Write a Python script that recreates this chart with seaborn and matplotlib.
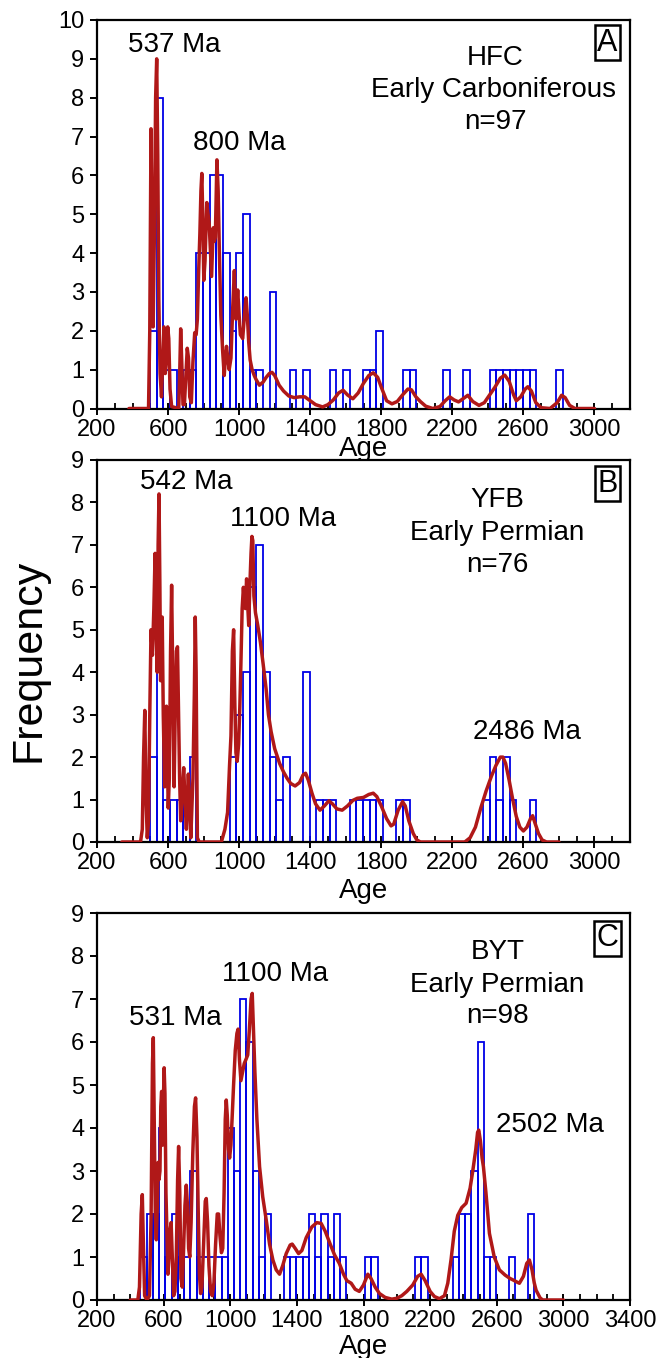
import numpy as np
import pandas as pd
import matplotlib
matplotlib.use("Agg")
import matplotlib.pyplot as plt
import seaborn as sns
from matplotlib.ticker import MultipleLocator

sns.set_theme(style="ticks")
plt.rcParams['font.family'] = ['Liberation Sans', 'DejaVu Sans']

# ---------------- shared histogram binning ----------------
BIN_WIDTH = 37.5
BIN_FIRST_EDGE = 460.0
N_BINS = 66

# ---------------- Panel A : HFC, Early Carboniferous ----------------
A_bar_start = [497.5, 535, 572.5, 610, 685, 722.5, 760, 797.5, 835, 872.5, 910, 947.5,
               985, 1022.5, 1060, 1097.5, 1172.5, 1285, 1360, 1510, 1585, 1697.5, 1735,
               1772.5, 1922.5, 1960, 2147.5, 2260, 2410, 2447.5, 2485, 2522.5, 2560,
               2597.5, 2635, 2785]
A_bar_count = [2, 8, 1, 1, 1, 1, 4, 4, 6, 6, 4, 2,
               4, 5, 1, 1, 3, 1, 1, 1, 1, 1, 1,
               2, 1, 1, 1, 1, 1, 1, 1, 1, 1,
               1, 1, 1]
A_pdp_age = [380, 490, 497, 504, 510, 516, 523, 530, 536, 542, 548, 555, 563, 570, 577, 584,
             591, 598, 604, 611, 620, 660, 665, 671, 677, 684, 692, 700, 708, 715, 722, 731,
             740, 750, 758, 765, 772, 779, 785, 790, 796, 801, 808, 818, 825, 831, 838, 845,
             854, 860, 866, 875, 882, 888, 897, 907, 916, 923, 929, 936, 944, 954, 964, 973,
             982, 992, 1000, 1007, 1020, 1030, 1039, 1046, 1054, 1062, 1073, 1085, 1095, 1114,
             1135, 1152, 1170, 1185, 1200, 1225, 1250, 1280, 1310, 1340, 1370, 1400, 1430,
             1470, 1500, 1530, 1560, 1585, 1610, 1640, 1670, 1700, 1730, 1755, 1780, 1800,
             1830, 1860, 1890, 1920, 1950, 1970, 1995, 2020, 2050, 2090, 2130, 2160, 2185,
             2210, 2235, 2260, 2287, 2315, 2350, 2380, 2410, 2440, 2470, 2495, 2520, 2545,
             2560, 2585, 2610, 2625, 2645, 2670, 2700, 2750, 2790, 2815, 2835, 2860, 2890, 3000]
A_pdp_freq = [0, 0, 2.0, 7.2, 4.0, 2.1, 4.5, 8.0, 9.0, 6.5, 2.8, 0.9, 0.3, 1.2, 2.1, 0.9,
              1.3, 2.1, 1.8, 0.5, 0.05, 0.0, 0.8, 2.05, 1.2, 0.1, 0.1, 0.8, 1.55, 1.3, 0.3, 0.15,
              1.2, 1.95, 1.9, 2.3, 3.5, 4.5, 5.6, 6.05, 4.8, 3.3, 3.8, 5.3, 5.0, 4.8, 4.1, 3.4,
              4.65, 4.3, 4.4, 6.4, 5.6, 4.2, 2.4, 1.5, 0.85, 1.3, 1.6, 1.3, 1.0, 1.3, 2.6, 3.55,
              2.3, 3.05, 2.4, 1.9, 1.8, 2.4, 2.85, 2.4, 1.7, 1.25, 1.0, 0.85, 0.75, 0.6,
              0.68, 0.8, 0.9, 0.93, 0.85, 0.6, 0.45, 0.32, 0.28, 0.3, 0.3, 0.2, 0.1,
              0.04, 0.1, 0.22, 0.4, 0.47, 0.35, 0.25, 0.4, 0.65, 0.85, 0.92, 0.8, 0.55,
              0.2, 0.12, 0.18, 0.35, 0.5, 0.48, 0.3, 0.18, 0.06, 0.0, 0.05, 0.2, 0.3,
              0.22, 0.17, 0.25, 0.34, 0.18, 0.08, 0.15, 0.35, 0.55, 0.78, 0.86, 0.7, 0.35,
              0.2, 0.3, 0.5, 0.56, 0.45, 0.15, 0.02, 0.0, 0.15, 0.34, 0.28, 0.08, 0.0, 0.0]

# ---------------- Panel B : YFB, Early Permian ----------------
B_bar_start = [497.5, 535, 572.5, 610, 647.5, 685, 722.5, 947.5, 985, 1022.5, 1060, 1097.5,
               1135, 1172.5, 1210, 1247.5, 1360, 1435, 1472.5, 1510, 1622.5, 1660, 1697.5,
               1735, 1772.5, 1885, 1922.5, 2372.5, 2410, 2447.5, 2485, 2522.5, 2635]
B_bar_count = [2, 4, 1, 1, 1, 1, 2, 2, 3, 4, 6, 7,
               4, 2, 1, 2, 4, 1, 1, 1, 1, 1, 1,
               1, 1, 1, 1, 1, 2, 1, 2, 1, 1]
B_pdp_age = [340, 445, 455, 462, 469, 476, 483, 490, 497, 504, 512, 520, 527, 533, 539, 544,
             549, 554, 558, 563, 567, 573, 581, 586, 591, 596, 601, 607, 614, 620, 626, 634,
             640, 647, 653, 659, 665, 671, 680, 688, 695, 703, 709, 714, 720, 728, 740, 748,
             753, 758, 765, 775, 900, 920, 935, 946, 954, 962, 969, 976, 982, 989, 997, 1004,
             1010, 1017, 1024, 1030, 1035, 1042, 1048, 1054, 1060, 1067, 1072, 1077, 1083,
             1092, 1105, 1120, 1135, 1152, 1165, 1180, 1200, 1228, 1250, 1270, 1290, 1315,
             1340, 1360, 1374, 1390, 1410, 1430, 1455, 1480, 1505, 1525, 1550, 1580, 1610,
             1640, 1665, 1700, 1730, 1755, 1775, 1800, 1830, 1855, 1870, 1895, 1920, 1935,
             1955, 1980, 2000, 2020, 2270, 2300, 2330, 2360, 2390, 2420, 2445, 2470, 2485,
             2500, 2520, 2540, 2560, 2580, 2600, 2620, 2640, 2652, 2665, 2685, 2705, 2730, 2800]
B_pdp_freq = [0, 0, 0.3, 2.0, 3.1, 1.0, 0.1, 0.5, 3.0, 5.0, 4.4, 5.5, 6.8, 5.0, 4.0, 7.0,
              8.2, 6.0, 3.8, 5.0, 5.3, 3.0, 1.3, 2.4, 3.2, 2.0, 0.8, 1.5, 4.5, 6.05, 4.0, 1.3,
              3.0, 4.5, 4.6, 3.0, 1.5, 0.5, 1.2, 1.75, 1.0, 0.3, 1.0, 1.6, 1.0, 0.1, 1.5, 3.5,
              5.3, 4.0, 0.1, 0.0, 0.0, 0.3, 0.7, 1.8, 2.5, 4.5, 5.0, 3.2, 2.1, 1.9, 2.3, 3.2,
              4.2, 5.5, 6.0, 5.6, 5.5, 6.2, 5.6, 5.1, 6.0, 6.8, 7.2, 7.1, 5.8,
              5.4, 5.1, 4.7, 4.2, 3.6, 3.0, 2.6, 2.2, 1.85, 1.65, 1.5, 1.38, 1.32,
              1.4, 1.58, 1.62, 1.45, 1.15, 0.9, 0.75, 0.85, 0.97, 0.9, 0.78, 0.75, 0.85,
              0.98, 1.03, 1.05, 1.12, 1.15, 1.07, 0.85, 0.55, 0.38, 0.42, 0.75, 0.95, 0.85,
              0.5, 0.2, 0.05, 0.0, 0.0, 0.1, 0.35, 0.8, 1.2, 1.55, 1.8, 2.0, 2.0,
              1.85, 1.45, 1.0, 0.6, 0.35, 0.26, 0.35, 0.55, 0.62, 0.45, 0.2, 0.05, 0.0, 0.0]

# ---------------- Panel C : BYT, Early Permian ----------------
C_bar_start = [460, 497.5, 535, 572.5, 610, 647.5, 685, 722.5, 760, 797.5, 835, 872.5, 910,
               947.5, 985, 1022.5, 1060, 1097.5, 1135, 1172.5, 1210, 1322.5, 1360, 1397.5,
               1435, 1472.5, 1510, 1547.5, 1585, 1622.5, 1660, 1810, 1847.5, 2110, 2147.5,
               2335, 2372.5, 2410, 2447.5, 2485, 2522.5, 2560, 2672.5, 2785]
C_bar_count = [1, 2, 2, 4, 1, 2, 1, 1, 3, 1, 1, 1, 1,
               1, 4, 3, 7, 6, 3, 1, 2, 1, 1, 1,
               1, 2, 1, 2, 1, 2, 1, 1, 1, 1, 1,
               1, 2, 2, 3, 6, 1, 1, 1, 2]
C_pdp_age = [400, 445, 455, 465, 472, 479, 486, 500, 515, 525, 533, 538, 544, 550, 556, 562,
             567, 572, 578, 583, 588, 593, 598, 603, 608, 614, 620, 626, 632, 638, 645, 652,
             660, 668, 676, 684, 690, 697, 704, 712, 720, 728, 736, 743, 750, 757, 765, 775,
             785, 792, 800, 808, 815, 822, 830, 840, 850, 856, 864, 872, 882, 892, 902, 912,
             922, 930, 938, 947, 955, 963, 970, 976, 982, 990, 996, 1004, 1012, 1020, 1030,
             1040, 1047, 1055, 1064, 1074, 1084, 1095, 1105, 1115, 1125, 1132, 1140, 1148,
             1160, 1176, 1195, 1216, 1236, 1256, 1276, 1296, 1315, 1336, 1360, 1372, 1390,
             1410, 1430, 1456, 1490, 1520, 1546, 1570, 1600, 1626, 1655, 1680, 1700, 1726,
             1750, 1775, 1800, 1826, 1845, 1870, 1896, 1930, 1970, 2000, 2030, 2060, 2096,
             2125, 2146, 2170, 2200, 2226, 2256, 2286, 2306, 2326, 2345, 2366, 2390, 2416,
             2440, 2456, 2474, 2485, 2492, 2502, 2512, 2520, 2535, 2556, 2585, 2616, 2650,
             2680, 2696, 2720, 2736, 2760, 2780, 2796, 2812, 2825, 2836, 2860, 2876, 3000]
C_pdp_freq = [0, 0, 0.3, 2.0, 2.45, 1.2, 0.1, 0.0, 0.1, 2.0, 5.5, 6.1, 4.0, 2.0, 1.4, 2.2,
              3.2, 2.8, 3.0, 4.5, 4.85, 3.6, 4.5, 5.4, 4.8, 2.5, 1.6, 0.6, 1.0, 1.6, 1.8, 1.0,
              0.1, 0.2, 1.0, 2.8, 3.57, 2.5, 0.5, 0.3, 1.2, 2.2, 2.67, 2.2, 1.2, 1.0, 1.8, 3.4,
              4.5, 4.7, 3.8, 2.0, 0.6, 0.15, 0.3, 1.3, 2.3, 2.36, 1.8, 0.8, 0.2, 0.1, 0.4, 1.3,
              2.0, 2.0, 1.5, 1.1, 1.2, 2.5, 4.2, 4.65, 4.3, 3.5, 3.3, 3.6, 4.3, 5.0, 5.8,
              6.2, 6.3, 5.6, 5.1, 5.3, 5.5, 5.6, 5.7, 6.3, 7.0, 7.13, 6.2, 5.3,
              4.2, 3.1, 2.4, 1.86, 1.3, 0.93, 0.7, 0.6, 0.8, 1.08, 1.28, 1.3, 1.2,
              1.08, 1.15, 1.45, 1.7, 1.8, 1.78, 1.6, 1.3, 1.05, 0.85, 0.6, 0.45, 0.39,
              0.25, 0.2, 0.35, 0.6, 0.5, 0.3, 0.15, 0.06, 0.02, 0.04, 0.1, 0.2, 0.35,
              0.55, 0.6, 0.45, 0.2, 0.08, 0.03, 0.1, 0.39, 0.95, 1.6, 1.97, 2.15, 2.25,
              2.6, 3.0, 3.5, 3.9, 3.95, 3.7, 3.3, 3.1, 2.5, 1.55, 1.0, 0.7, 0.58,
              0.5, 0.47, 0.42, 0.39, 0.55, 0.85, 0.93, 0.7, 0.4, 0.23, 0.05, 0.0, 0.0]

# ---------------- labels ----------------
A_peaks = [("537 Ma", 637, 9.36), ("800 Ma", 1003, 6.83)]
B_peaks = [("542 Ma", 700, 8.47), ("1100 Ma", 1246, 7.62), ("2486 Ma", 2618, 2.59)]
C_peaks = [("531 Ma", 672, 6.56), ("1100 Ma", 1272, 7.58), ("2502 Ma", 2918, 4.07)]
A_info = [("HFC", 2440, 9.02), ("Early Carboniferous", 2430, 8.2), ("n=97", 2440, 7.37)]
B_info = [("YFB", 2455, 8.06), ("Early Permian", 2450, 7.28), ("n=76", 2455, 6.53)]
C_info = [("BYT", 2605, 8.09), ("Early Permian", 2600, 7.33), ("n=98", 2605, 6.6)]
panel_letters = ["A", "B", "C"]

BAR_BLUE = "#0000e6"
PDP_RED = "#b01818"

W, H = 666, 1358
fig = plt.figure(figsize=(W / 100, H / 100), dpi=100)


def px_axes(left, top, right, bottom):
    return fig.add_axes([left / W, 1 - bottom / H, (right - left) / W, (bottom - top) / H])


def draw_panel(ax, starts, counts, pdp_age, pdp_freq, xmax, ymax, peaks, info,
               letter, letter_pos, age_label_y):
    edges = [float(BIN_FIRST_EDGE + BIN_WIDTH * i) for i in range(N_BINS + 1)]
    bars = pd.DataFrame({"age": np.asarray(starts, dtype=float) + BIN_WIDTH / 2,
                         "count": np.asarray(counts, dtype=float)})
    sns.histplot(data=bars, x="age", weights="count", bins=edges, fill=False,
                 color=BAR_BLUE, linewidth=1.3, element="bars", ax=ax)
    pdp = pd.DataFrame({"age": pdp_age, "freq": pdp_freq})
    sns.lineplot(data=pdp, x="age", y="freq", color=PDP_RED, linewidth=2.5, ax=ax,
                 estimator=None, sort=False, solid_joinstyle="round", zorder=3)
    ax.set_xlim(200, xmax)
    ax.set_ylim(0, ymax)
    ax.set_xticks(np.arange(200, xmax + 1, 400))
    ax.xaxis.set_minor_locator(MultipleLocator(100))
    ax.set_yticks(np.arange(0, ymax + 1, 1))
    ax.tick_params(axis="x", which="major", direction="inout", length=9, width=1.4,
                   labelsize=17, pad=3, colors="black")
    ax.tick_params(axis="x", which="minor", direction="in", length=4, width=1.3,
                   colors="black")
    ax.tick_params(axis="y", which="major", direction="out", length=5, width=1.4,
                   labelsize=17, pad=4, colors="black")
    for sp in ax.spines.values():
        sp.set_visible(True)
        sp.set_color("black")
        sp.set_linewidth(1.6)
    ax.set_ylabel("")
    ax.set_xlabel("Age", fontsize=20, color="black")
    ax.xaxis.set_label_coords(0.5, age_label_y)
    for txt, x, y in peaks:
        ax.text(x, y, txt, fontsize=20, ha="center", va="center", color="black")
    for txt, x, y in info:
        ax.text(x, y, txt, fontsize=20, ha="center", va="center", color="black")
    ax.text(letter_pos[0], letter_pos[1], letter, fontsize=22, ha="center", va="center",
            transform=ax.transAxes, color="black",
            bbox=dict(boxstyle="square,pad=0.08", fc="white", ec="black", lw=1.8))


axA = px_axes(97, 20, 630, 408.5)
axB = px_axes(97, 460, 630, 842)
axC = px_axes(97, 913, 630, 1300)

draw_panel(axA, A_bar_start, A_bar_count, A_pdp_age, A_pdp_freq, 3200, 10,
           A_peaks, A_info, panel_letters[0], (0.958, 0.942), -0.071)
draw_panel(axB, B_bar_start, B_bar_count, B_pdp_age, B_pdp_freq, 3200, 9,
           B_peaks, B_info, panel_letters[1], (0.958, 0.938), -0.094)
draw_panel(axC, C_bar_start, C_bar_count, C_pdp_age, C_pdp_freq, 3400, 9,
           C_peaks, C_info, panel_letters[2], (0.958, 0.935), -0.089)

fig.text(28 / W, 1 - 660 / H, "Frequency", rotation=90, ha="center", va="center",
         fontsize=31, color="black")

fig.savefig("out.png", dpi=100, facecolor="white")
